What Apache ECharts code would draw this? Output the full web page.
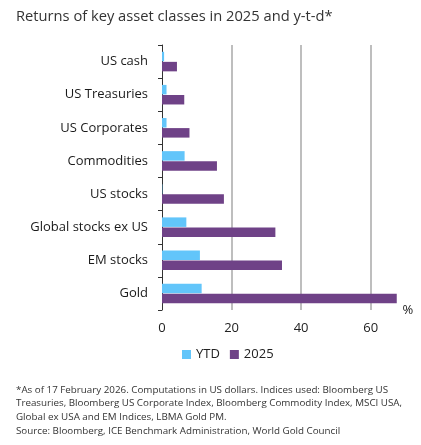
<!DOCTYPE html>
<html>
<head>
<meta charset="utf-8">
<script src="https://cdn.jsdelivr.net/npm/echarts@6/dist/echarts.min.js"></script>
<style>html,body{margin:0;padding:0;background:#fff;}#c{width:421px;height:445px;}</style>
</head>
<body>
<div id="c"></div>
<script>
const categories = ['US cash','US Treasuries','US Corporates','Commodities','US stocks','Global stocks ex US','EM stocks','Gold'];
const ytd = [0.6, 1.3, 1.3, 6.5, 0.1, 7.0, 10.9, 11.4];
const y2025 = [4.3, 6.4, 7.9, 15.8, 17.8, 32.6, 34.5, 67.5];
const xTicks = [0, 20, 40, 60];
const titleText = 'Returns of key asset classes in 2025 and y-t-d*';
const footnote = [
  '*As of 17 February 2026. Computations in US dollars. Indices used: Bloomberg US',
  'Treasuries, Bloomberg US Corporate Index, Bloomberg Commodity Index, MSCI USA,',
  'Global ex USA and EM Indices, LBMA Gold PM.',
  'Source: Bloomberg, ICE Benchmark Administration, World Gold Council'
];

const FONT = '"Open Sans", "Noto Sans", sans-serif';
const chart = echarts.init(document.getElementById('c'), null, {renderer: 'canvas'});
chart.setOption({
  animation: false,
  backgroundColor: '#fff',
  textStyle: {fontFamily: FONT},
  title: [
    {text: titleText, left: 11, top: 4, textStyle: {fontFamily: FONT, fontSize: 14.7, fontWeight: 'normal', color: '#333'}},
    {text: footnote.join('\n'), left: 11, top: 378, textStyle: {fontFamily: FONT, fontSize: 9.8, fontWeight: 'normal', color: '#333', lineHeight: 13.7}}
  ],
  legend: {
    left: 177, top: 343,
    icon: 'rect', itemWidth: 9, itemHeight: 9, itemGap: 10,
    textStyle: {fontFamily: FONT, fontSize: 13, color: '#222'},
    data: ['YTD', '2025']
  },
  grid: {left: 162, right: 22.5, top: 45, bottom: 135, containLabel: false},
  xAxis: {
    type: 'value', min: 0, max: 68, interval: 20,
    name: '%', nameLocation: 'end', nameGap: 4,
    nameTextStyle: {fontFamily: FONT, fontSize: 13, color: '#222', verticalAlign: 'middle'},
    axisLine: {show: false},
    axisTick: {show: false},
    splitLine: {show: false},
    axisLabel: {
      fontFamily: FONT, fontSize: 13, color: '#222', margin: 12,
      showMaxLabel: false,
      formatter: v => xTicks.includes(v) ? String(v) : ''
    }
  },
  yAxis: {
    type: 'category', inverse: true, data: categories,
    axisLine: {show: true, lineStyle: {color: '#333', width: 1}},
    axisTick: {show: true, length: 4, lineStyle: {color: '#333'}},
    axisLabel: {fontFamily: FONT, fontSize: 13, color: '#1a1a1a', margin: 14}
  },
  series: [
    {
      name: 'YTD', type: 'bar', data: ytd, barWidth: 9.5, barGap: '6%',
      itemStyle: {color: '#62C5FA'},
      markLine: {
        silent: true, symbol: 'none', z: 1,
        label: {show: false},
        lineStyle: {color: '#a8a8a8', type: 'solid', width: 1.5},
        data: xTicks.filter(v => v > 0).map(v => ({xAxis: v}))
      }
    },
    {
      name: '2025', type: 'bar', data: y2025, barWidth: 9.5, barGap: '6%',
      itemStyle: {color: '#6F4287'}
    }
  ]
});
</script>
</body>
</html>
